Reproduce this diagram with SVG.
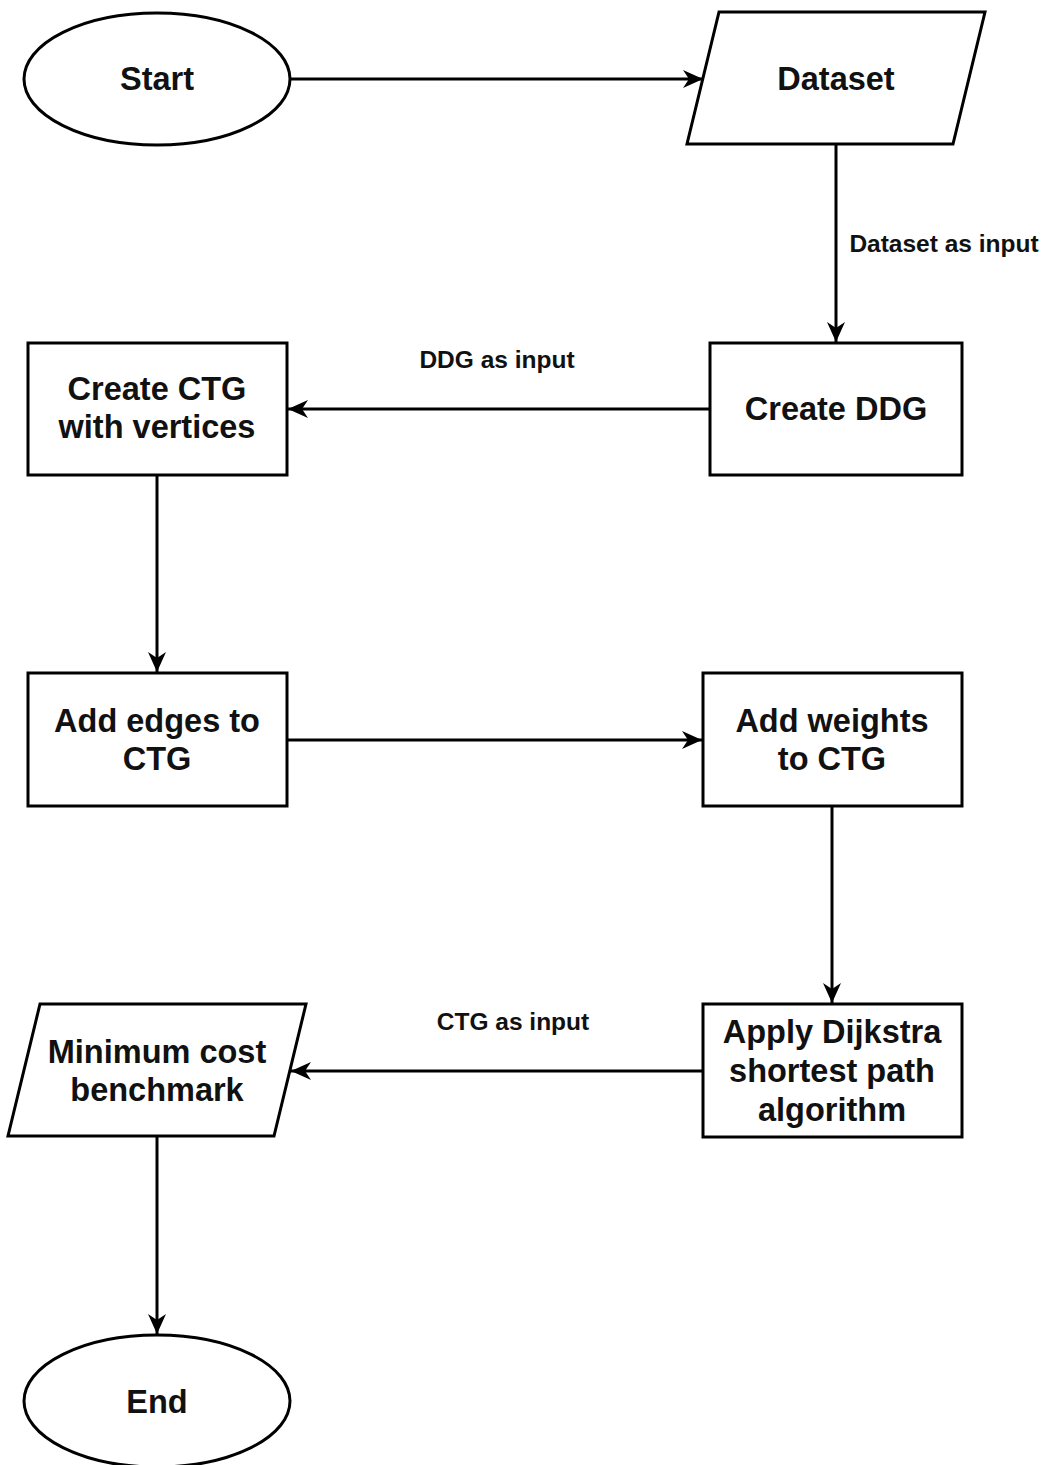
<svg xmlns="http://www.w3.org/2000/svg" width="1046" height="1465" viewBox="0 0 1046 1465">
  <style>
    .shape { fill: #ffffff; stroke: #000000; stroke-width: 3; }
    .edge { fill: none; stroke: #000000; stroke-width: 3; }
    .t { font-family: "Liberation Sans", Arial, sans-serif; font-weight: bold; font-size: 32.5px; fill: #111111; text-anchor: middle; }
    .lbl { font-family: "Liberation Sans", Arial, sans-serif; font-weight: bold; font-size: 24.5px; fill: #111111; text-anchor: middle; }
  </style>
  <defs>
    <marker id="arrow" markerUnits="userSpaceOnUse" markerWidth="22" markerHeight="18" viewBox="0 0 22 18" refX="20" refY="9" orient="auto">
      <path d="M0,0 L20,9 L0,18 L6,9 Z" fill="#000000"/>
    </marker>
  </defs>
  <rect width="1046" height="1465" fill="#ffffff"/>

  <g id="connectors">
    <path class="edge" d="M290,79 L703,79" marker-end="url(#arrow)"/>
    <path class="edge" d="M836,144 L836,342" marker-end="url(#arrow)"/>
    <path class="edge" d="M710,409 L288,409" marker-end="url(#arrow)"/>
    <path class="edge" d="M157,476 L157,672" marker-end="url(#arrow)"/>
    <path class="edge" d="M287,740 L702,740" marker-end="url(#arrow)"/>
    <path class="edge" d="M832,806 L832,1003" marker-end="url(#arrow)"/>
    <path class="edge" d="M703,1071 L291,1071" marker-end="url(#arrow)"/>
    <path class="edge" d="M157,1136 L157,1334" marker-end="url(#arrow)"/>
    <text class="lbl" x="944" y="252">Dataset as input</text>
    <text class="lbl" x="497" y="368">DDG as input</text>
    <text class="lbl" x="513" y="1030">CTG as input</text>
  </g>

  <g id="start">
    <ellipse class="shape" cx="157" cy="79" rx="133" ry="66"/>
    <text class="t" x="157" y="90">Start</text>
  </g>

  <g id="dataset">
    <polygon class="shape" points="719,12 985,12 953,144 687,144"/>
    <text class="t" x="836" y="90">Dataset</text>
  </g>

  <g id="create-ddg">
    <rect class="shape" x="710" y="343" width="252" height="132"/>
    <text class="t" x="836" y="420">Create DDG</text>
  </g>

  <g id="create-ctg">
    <rect class="shape" x="28" y="343" width="259" height="132"/>
    <text class="t" x="157" y="400">Create CTG</text>
    <text class="t" x="157" y="438">with vertices</text>
  </g>

  <g id="add-edges">
    <rect class="shape" x="28" y="673" width="259" height="133"/>
    <text class="t" x="157" y="732">Add edges to</text>
    <text class="t" x="157" y="770">CTG</text>
  </g>

  <g id="add-weights">
    <rect class="shape" x="703" y="673" width="259" height="133"/>
    <text class="t" x="832" y="732">Add weights</text>
    <text class="t" x="832" y="770">to CTG</text>
  </g>

  <g id="dijkstra">
    <rect class="shape" x="703" y="1004" width="259" height="133"/>
    <text class="t" x="832" y="1043">Apply Dijkstra</text>
    <text class="t" x="832" y="1082">shortest path</text>
    <text class="t" x="832" y="1121">algorithm</text>
  </g>

  <g id="min-cost">
    <polygon class="shape" points="40,1004 306,1004 274,1136 8,1136"/>
    <text class="t" x="157" y="1063">Minimum cost</text>
    <text class="t" x="157" y="1101">benchmark</text>
  </g>

  <g id="end">
    <ellipse class="shape" cx="157" cy="1401" rx="133" ry="66"/>
    <text class="t" x="157" y="1413">End</text>
  </g>
</svg>
